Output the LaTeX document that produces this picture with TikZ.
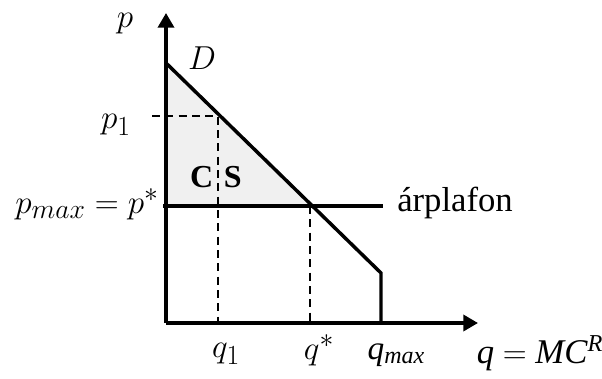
\documentclass[tikz,border=0pt]{standalone}
\usepackage{fontspec}
\setmainfont{Liberation Serif}
\usetikzlibrary{arrows.meta}
\begin{document}
\begin{tikzpicture}[x=0.75pt,y=-0.75pt,
  axis/.style={line width=2.6pt,-{Triangle[length=11pt,width=12pt]}},
  thickline/.style={line width=2.6pt},
  dashline/.style={line width=1.1pt,dash pattern=on 6pt off 4pt},
  lbl/.style={inner sep=0pt,font=\fontsize{24}{28}\selectfont},
  mlbl/.style={inner sep=0pt,font=\fontsize{28}{32}\selectfont}]
\useasboundingbox (0,0) rectangle (602,378);
% coordinates
\coordinate (O) at (166,323);
\coordinate (Ytop) at (166,13);
\coordinate (Xend) at (478,323);
\coordinate (Dtop) at (166,63);
\coordinate (A) at (218,116);
\coordinate (E) at (310,206);
\coordinate (F) at (166,206);
\coordinate (Qm) at (381,273);
\coordinate (Qmb) at (381,323);
\coordinate (CL) at (163,206);
\coordinate (CR) at (383,206);
\coordinate (P1t) at (152,116);
\coordinate (Q1b) at (218,323);
\coordinate (Qsb) at (310,323);
% consumer surplus area
\fill[black!6] (Dtop) -- (E) -- (F) -- cycle;
% dashed guides
\draw[dashline] (P1t) -- (A) -- (Q1b);
\draw[dashline] (E) -- (Qsb);
% axes
\draw[axis] (O) -- (Ytop);
\draw[axis] (O) -- (Xend);
% demand and ceiling
\draw[thickline,line join=miter] (Dtop) -- (Qm) -- (Qmb);
\draw[thickline] (CL) -- (CR);
% labels
\node[mlbl] (lp) at (125,24) {$p$};
\node[mlbl] (lD) at (202,58) {$D$};
\node[mlbl] (lp1) at (116,125) {$p_1$};
\node[mlbl,anchor=east] (lpmax) at (159,204) {$p_{max}=p^*$};
\node[lbl,font=\fontsize{24}{28}\selectfont\bfseries] (lCS) at (216,177) {C\hspace{8pt}S};
\node[lbl,anchor=west,font=\fontsize{26}{30}\selectfont] (lar) at (397,203) {árplafon};
\node[mlbl] (lq1) at (226,354) {$q_1$};
\node[mlbl] (lqs) at (319,350) {$q^*$};
\node[lbl,font=\fontsize{25}{30}\selectfont] (lqm) at (396,355) {\textit{q\raisebox{-3pt}{\fontsize{18}{20}\selectfont max}}};
\node[lbl,font=\fontsize{26}{30}\selectfont] (lqmc) at (540,353) {\textit{q} $=$ \textit{MC}\textsuperscript{\textit{R}}};
\end{tikzpicture}
\end{document}
